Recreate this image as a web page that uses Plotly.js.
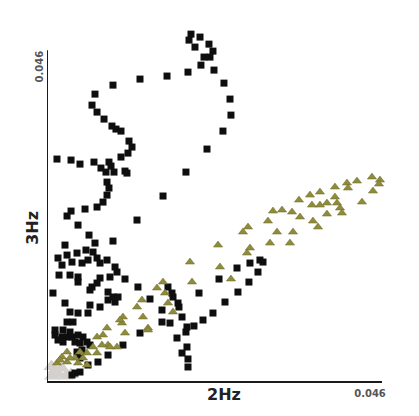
<!DOCTYPE html>
<html>
<head>
<meta charset="utf-8">
<script src="https://cdn.plot.ly/plotly-3.0.1.min.js"></script>
<style>html,body{margin:0;padding:0;background:#fff;}#chart{width:419px;height:416px;}</style>
</head>
<body>
<div id="chart"></div>
<script>
// Series A (black squares): 2Hz vs 3Hz
const squares2Hz = [
0.01977,0.01950,0.02101,0.02224,0.02032,0.02279,0.02156,0.02238,0.02114,0.02293,0.01936,0.01648,0.01277,0.00906,0.02430,0.02513,0.02526,0.02416,0.02197,
0.00659,0.00618,0.00687,0.00783,0.00892,0.00947,0.01016,0.01126,0.01167,0.01016,0.01112,
0.00137,0.00330,0.00453,0.00645,0.00851,0.00879,0.00741,0.00810,0.00920,0.01071,0.01098,0.00824,0.00851,0.00824,0.00769,0.00687,0.00522,0.00330,0.00275,0.00426,0.01236,0.01908,0.01593,0.00577,0.00659,0.00906,0.00247,
0.00151,0.00275,0.00412,0.00535,0.00632,0.00687,0.00206,0.00343,0.00481,0.00563,0.00728,0.00824,0.00934,0.00961,0.00165,0.00316,0.00426,0.00426,0.00618,0.00728,0.00687,0.00590,0.00865,0.01071,0.00082,0.00838,0.00906,0.00975,0.00838,0.00934,0.01249,0.01414,0.00247,0.00590,0.00728,0.00316,0.00426,0.00563,
0.00110,0.00220,0.00316,0.00110,0.00206,0.00275,0.00343,0.00426,0.00494,0.00549,0.00151,0.00220,0.00384,0.00453,0.00590,0.00481,0.00412,0.00453,0.00563,0.00453,0.00384,0.00343,0.00838,0.00700,0.01043,0.01277,0.00275,0.00357,
0.01579,0.01579,0.01661,0.01716,0.01730,0.01799,0.01812,0.01854,0.01922,0.01908,0.02018,0.02087,0.01689,0.01785,0.01922,0.01854,0.01936,0.01936,
0.02142,0.02279,0.02444,0.02622,0.02773,0.02897,0.02362,0.02609,0.02787,0.02924,0.02966
];
const squares3Hz = [
0.04823,0.04740,0.04782,0.04684,0.04643,0.04587,0.04504,0.04504,0.04392,0.04323,0.04295,0.04240,0.04198,0.04114,0.04142,0.03920,0.03697,0.03475,0.03225,
0.03989,0.03836,0.03739,0.03642,0.03545,0.03503,0.03475,0.03336,0.03253,0.03114,0.03169,
0.03086,0.03072,0.03016,0.03044,0.03044,0.02989,0.02961,0.02905,0.02905,0.02919,0.02891,0.02766,0.02683,0.02585,0.02488,0.02419,0.02391,0.02363,0.02294,0.02168,0.02238,0.02905,0.02572,0.02029,0.01918,0.01946,0.01890,
0.01710,0.01751,0.01779,0.01821,0.01793,0.01710,0.01612,0.01654,0.01640,0.01682,0.01640,0.01682,0.01585,0.01515,0.01473,0.01473,0.01446,0.01376,0.01307,0.01432,0.01362,0.01265,0.01446,0.01418,0.01223,0.01237,0.01168,0.01168,0.01126,0.01098,0.01307,0.01140,0.01084,0.01056,0.01029,0.00959,0.00945,0.00945,
0.00709,0.00709,0.00681,0.00639,0.00612,0.00612,0.00612,0.00639,0.00612,0.00542,0.00570,0.00542,0.00542,0.00528,0.00500,0.00431,0.00403,0.00320,0.00222,0.00125,0.00111,0.00083,0.00361,0.00264,0.00500,0.00667,0.00820,0.00820,
0.00987,0.00820,0.01307,0.01223,0.01168,0.01084,0.01029,0.00890,0.00751,0.00681,0.00765,0.01223,0.00806,0.00598,0.00473,0.00389,0.00306,0.00195,
0.00848,0.00945,0.01098,0.01237,0.01376,0.01515,0.01418,0.01571,0.01640,0.01682,0.01654
];
// Series B (olive triangles)
const triangles2Hz = [
0.04462,0.04572,0.04558,0.04256,0.04119,0.04133,0.03954,0.03748,0.03611,0.03460,0.04476,0.04325,0.03954,0.03982,0.03844,0.03748,0.03638,0.04023,0.03227,0.03364,0.03474,0.03103,0.03844,0.04050,0.03652,0.03721,0.03378,0.03336,0.03034,0.03158,
0.02760,0.02691,0.03062,0.02787,0.02746,0.02348,0.01963,0.02375,0.02526,0.01991,0.01593,0.01620,0.01661,0.01730,0.01510,0.01304,0.01236,0.01318,0.01043,0.01030,0.01387,0.00824,0.00769,0.01071,0.00687,0.00838,0.00632,0.00687,0.00549,0.00494,0.00206,0.00275,0.00384,0.00426,0.00549,0.00961,0.00275,0.00137,0.01002,0.01387,0.00865,0.00755,0.00453,0.00316,0.00178
];
const triangles3Hz = [
0.02836,0.02794,0.02738,0.02780,0.02752,0.02683,0.02697,0.02627,0.02585,0.02516,0.02641,0.02488,0.02558,0.02474,0.02474,0.02446,0.02446,0.02405,0.02377,0.02349,0.02280,0.02363,0.02321,0.02335,0.02224,0.02141,0.02071,0.01918,0.02224,0.02071,
0.02141,0.02071,0.01918,0.01849,0.01779,0.01890,0.01654,0.01585,0.01418,0.01376,0.01376,0.01223,0.01084,0.00959,0.01293,0.01126,0.01029,0.00890,0.00890,0.00806,0.00737,0.00737,0.00639,0.00667,0.00612,0.00500,0.00473,0.00389,0.00389,0.00320,0.00334,0.00403,0.00320,0.00250,0.00222,0.00473,0.00264,0.00250,0.00848,0.00709,0.00473,0.00500,0.00403,0.00320,0.00292
];
// Series C (light grey, near origin)
const grey2Hz = [0.00069,0.00151,0.00261,0.00110,0.00200,0.00330,0.00060];
const grey3Hz = [0.00070,0.00097,0.00070,0.00153,0.00180,0.00090,0.00200];

const axisMax = 0.046;
const tickVal = [0.046];
const tickText = ["0.046"];
const xTitle = "2Hz";
const yTitle = "3Hz";

const traces = [
  {x: grey2Hz, y: grey3Hz, type: 'scatter', mode: 'markers', cliponaxis: false,
   marker: {symbol: 'triangle-up', size: 14, color: '#d4d0cd'}},
  {x: squares2Hz, y: squares3Hz, type: 'scatter', mode: 'markers', cliponaxis: false,
   marker: {symbol: 'square', size: 7, color: '#0e0e0e'}},
  {x: triangles2Hz, y: triangles3Hz, type: 'scatter', mode: 'markers', cliponaxis: false,
   marker: {symbol: 'triangle-up', size: 8, color: '#8f8b3c', line: {width: 0.5, color: '#6f6c2a'}}}
];

const tickFont = {family: 'DejaVu Sans', size: 10, color: '#555555', weight: 'bold'};
const titleFont = {family: 'DejaVu Sans', size: 16, color: '#222222', weight: 'bold'};

const layout = {
  width: 419, height: 416,
  margin: {l: 47, r: 37, t: 25, b: 35},
  paper_bgcolor: '#ffffff', plot_bgcolor: '#ffffff',
  showlegend: false,
  xaxis: {
    range: [0, axisMax], showgrid: false, zeroline: false, showline: true,
    linecolor: '#1a1a1a', linewidth: 2, ticks: '', tickmode: 'array',
    tickvals: tickVal, ticktext: tickText, tickfont: tickFont,
    ticklabelshift: -12, ticklabelstandoff: 2
  },
  yaxis: {
    range: [0, 0.0495], showgrid: false, zeroline: false, showline: false,
    ticks: '', tickmode: 'array', tickvals: tickVal, ticktext: tickText, tickfont: tickFont,
    tickangle: -90, ticklabelshift: 18, ticklabelstandoff: 1
  },
  shapes: [
    {type: 'line', xref: 'x', yref: 'y', x0: 0, x1: 0, y0: 0, y1: axisMax,
     line: {color: '#1a1a1a', width: 2}}
  ],
  annotations: [
    {text: xTitle, xref: 'paper', yref: 'paper', x: 0.528, y: -0.039, xanchor: 'center', yanchor: 'middle',
     showarrow: false, font: titleFont},
    {text: yTitle, xref: 'paper', yref: 'paper', x: -0.042, y: 0.43, xanchor: 'center', yanchor: 'middle',
     textangle: -90, showarrow: false, font: titleFont}
  ]
};

Plotly.newPlot('chart', traces, layout, {displayModeBar: false, staticPlot: true});
</script>
</body>
</html>
